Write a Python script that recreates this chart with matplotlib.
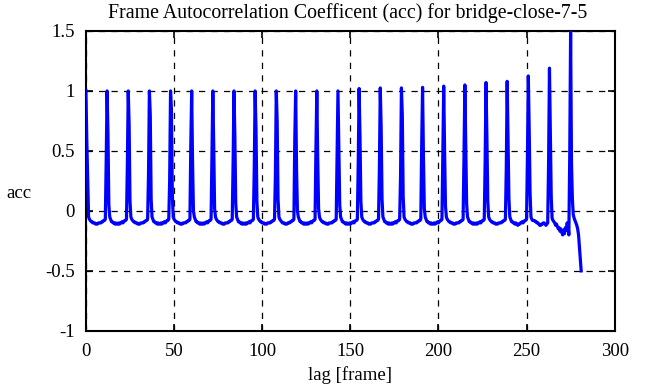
import numpy as np
import matplotlib
matplotlib.use("Agg")
import matplotlib.pyplot as plt

# autocorrelation coefficient sampled every half frame (lag = index * 0.5 frames)
# one row per peak: peak, two falling samples, baseline, rising sample before the next peak
acc = [
    1.0, 0.58, 0.26, -0.05, -0.07, -0.08, -0.09, -0.09, -0.10, -0.10, -0.10, -0.11, -0.11, -0.11, -0.10, -0.10, -0.10, -0.10, -0.09, -0.09, -0.08, -0.08, -0.07, 0.42,
    1.0, 0.64, 0.05, -0.05, -0.07, -0.09, -0.09, -0.10, -0.10, -0.11, -0.10, -0.11, -0.11, -0.10, -0.11, -0.10, -0.10, -0.09, -0.10, -0.09, -0.08, -0.08, -0.07, 0.38,
    1.0, 0.72, 0.08, -0.05, -0.07, -0.08, -0.09, -0.09, -0.10, -0.10, -0.10, -0.11, -0.11, -0.11, -0.10, -0.10, -0.10, -0.10, -0.09, -0.09, -0.08, -0.08, -0.07, 0.30,
    1.0, 0.80, 0.10, -0.05, -0.07, -0.09, -0.09, -0.10, -0.10, -0.11, -0.10, -0.11, -0.11, -0.10, -0.11, -0.10, -0.10, -0.09, -0.10, -0.09, -0.08, -0.08, -0.07, 0.25,
    1.0, 0.85, 0.15, -0.05, -0.07, -0.08, -0.09, -0.09, -0.10, -0.10, -0.10, -0.11, -0.11, -0.11, -0.10, -0.10, -0.10, -0.10, -0.09, -0.09, -0.08, -0.08, -0.07, 0.55,
    1.0, 0.40, 0.00, -0.05, -0.07, -0.09, -0.09, -0.10, -0.10, -0.11, -0.10, -0.11, -0.11, -0.10, -0.11, -0.10, -0.10, -0.09, -0.10, -0.09, -0.08, -0.08, -0.07, 0.45,
    1.0, 0.55, 0.02, -0.05, -0.07, -0.08, -0.09, -0.09, -0.10, -0.10, -0.10, -0.11, -0.11, -0.11, -0.10, -0.10, -0.10, -0.10, -0.09, -0.09, -0.08, -0.08, -0.07, 0.40,
    1.0, 0.62, 0.06, -0.05, -0.07, -0.09, -0.09, -0.10, -0.10, -0.11, -0.10, -0.11, -0.11, -0.10, -0.11, -0.10, -0.10, -0.09, -0.10, -0.09, -0.08, -0.08, -0.07, 0.35,
    1.0, 0.68, 0.08, -0.05, -0.07, -0.08, -0.09, -0.09, -0.10, -0.10, -0.10, -0.11, -0.11, -0.11, -0.10, -0.10, -0.10, -0.10, -0.09, -0.09, -0.08, -0.08, -0.07, 0.30,
    1.0, 0.75, 0.10, -0.05, -0.07, -0.08, -0.09, -0.10, -0.10, -0.10, -0.11, -0.11, -0.11, -0.10, -0.10, -0.10, -0.09, -0.09, -0.08, -0.08, -0.07, 0.60,
    1.0, 0.35, 0.00, -0.05, -0.07, -0.09, -0.09, -0.10, -0.10, -0.11, -0.10, -0.11, -0.11, -0.10, -0.11, -0.10, -0.10, -0.09, -0.10, -0.09, -0.08, -0.08, -0.07, 0.52,
    1.0, 0.45, 0.02, -0.05, -0.07, -0.08, -0.09, -0.09, -0.10, -0.10, -0.10, -0.11, -0.11, -0.11, -0.10, -0.10, -0.10, -0.10, -0.09, -0.09, -0.08, -0.08, -0.07, 0.45,
    1.0, 0.55, 0.05, -0.05, -0.07, -0.09, -0.09, -0.10, -0.10, -0.11, -0.10, -0.11, -0.11, -0.10, -0.11, -0.10, -0.10, -0.09, -0.10, -0.09, -0.08, -0.08, -0.07, 0.40,
    1.02, 0.62, 0.08, -0.05, -0.07, -0.08, -0.09, -0.09, -0.10, -0.10, -0.10, -0.11, -0.11, -0.11, -0.10, -0.10, -0.10, -0.10, -0.09, -0.09, -0.08, -0.08, -0.07, 0.35,
    1.025, 0.70, 0.10, -0.05, -0.07, -0.09, -0.09, -0.10, -0.10, -0.11, -0.10, -0.11, -0.11, -0.10, -0.11, -0.10, -0.10, -0.09, -0.10, -0.09, -0.08, -0.08, -0.07, 0.28,
    1.025, 0.80, 0.12, -0.05, -0.07, -0.08, -0.09, -0.09, -0.10, -0.10, -0.10, -0.11, -0.11, -0.11, -0.10, -0.10, -0.10, -0.10, -0.09, -0.09, -0.08, -0.08, -0.07, 0.55,
    1.03, 0.45, 0.02, -0.05, -0.07, -0.09, -0.09, -0.10, -0.10, -0.11, -0.10, -0.11, -0.11, -0.10, -0.11, -0.10, -0.10, -0.09, -0.10, -0.09, -0.08, -0.08, -0.07, 0.50,
    1.04, 0.50, 0.04, -0.05, -0.07, -0.08, -0.09, -0.09, -0.10, -0.10, -0.10, -0.11, -0.11, -0.11, -0.10, -0.10, -0.10, -0.10, -0.09, -0.09, -0.08, -0.08, -0.07, 0.45,
    1.05, 0.58, 0.06, -0.05, -0.07, -0.09, -0.09, -0.10, -0.10, -0.11, -0.10, -0.11, -0.11, -0.10, -0.11, -0.10, -0.10, -0.09, -0.10, -0.09, -0.08, -0.08, -0.07, 0.40,
    1.07, 0.62, 0.08, -0.05, -0.07, -0.08, -0.09, -0.09, -0.10, -0.10, -0.10, -0.11, -0.11, -0.11, -0.10, -0.10, -0.10, -0.10, -0.09, -0.09, -0.08, -0.08, -0.07, 0.35,
    1.08, 0.60, 0.10, -0.05, -0.07, -0.09, -0.09, -0.10, -0.10, -0.11, -0.10, -0.11, -0.12, -0.11, -0.11, -0.10, -0.10, -0.09, -0.10, -0.09, -0.08, -0.08, -0.07, 0.45,
    1.125, 0.68, 0.15, -0.05, -0.07, -0.08, -0.08, -0.08, -0.09, -0.09, -0.10, -0.10, -0.11, -0.12, -0.12, -0.11, -0.11, -0.10, -0.10, -0.11, -0.12, -0.11, -0.10, 0.40,
    1.19, 0.65, 0.12, -0.06, -0.08, -0.09, -0.10, -0.12, -0.11, -0.13, -0.15, -0.14, -0.17, -0.15, -0.18, -0.20, -0.16, -0.19, -0.14, -0.16, -0.10, -0.12, -0.20, 0.45,
    1.5, 0.40, 0.10, -0.03, -0.06, -0.08, -0.10, -0.12, -0.15, -0.20, -0.30, -0.40, -0.50,
]
lag = np.arange(len(acc)) * 0.5

x_ticks = [0, 50, 100, 150, 200, 250, 300]
y_ticks = [-1, -0.5, 0, 0.5, 1, 1.5]
y_tick_labels = ["-1", "-0.5", "0", "0.5", "1", "1.5"]

plt.rcParams['font.family'] = ['Liberation Serif', 'DejaVu Serif']

fig = plt.figure(figsize=(6.56, 3.87), dpi=100)
ax = fig.add_axes([0.131, 0.145, 0.806, 0.775])

ax.plot(lag, acc, color=(0, 0, 1), lw=2.3, zorder=3)

ax.set_xlim(0, 300)
ax.set_ylim(-1, 1.5)
ax.set_xticks(x_ticks)
ax.set_yticks(y_ticks)
ax.set_yticklabels(y_tick_labels)
ax.tick_params(direction='in', top=True, right=True, length=5, width=1.2,
               labelsize=13.5, colors='black')
ax.tick_params(axis='x', pad=9)
ax.tick_params(axis='y', pad=8)
for s in ax.spines.values():
    s.set_linewidth(1.5)
ax.grid(True, color='black', linestyle=(0, (5, 5)), linewidth=0.9)

fig.text(348 / 656, 1 - 13 / 387,
         "Frame Autocorrelation Coefficent (acc) for bridge-close-7-5",
         fontsize=14.3, ha='center', va='center')
ax.set_xlabel("lag [frame]", fontsize=13.5, labelpad=4)
fig.text(19 / 656, 1 - 193 / 387, "acc", fontsize=13.5, ha='center', va='center')

fig.savefig("out.png", dpi=100)
